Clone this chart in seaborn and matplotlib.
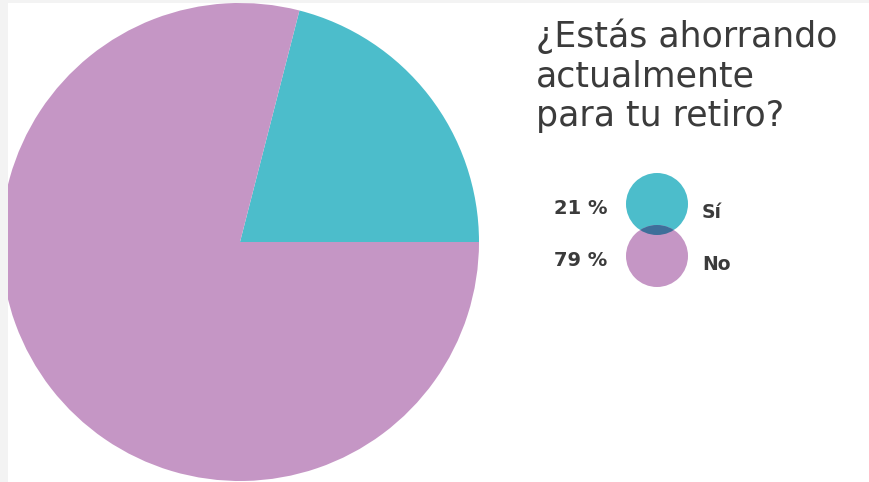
import matplotlib
matplotlib.use("Agg")
import matplotlib.pyplot as plt
import matplotlib.patches as mpatches
import seaborn as sns

# Survey answers
categories = ["Sí", "No"]
shares = [21, 79]
pct_labels = ["21 %", "79 %"]
title = "¿Estás ahorrando\nactualmente\npara tu retiro?"

sns.set_theme(style="white")
plt.rcParams["font.family"] = ["DejaVu Sans"]
palette = sns.color_palette(["#4cbdcb", "#c596c5"])
overlap_color = "#3e6f9a"
text_color = "#3b3b3b"

W, H = 869, 482
fig = plt.figure(figsize=(W / 100, H / 100), dpi=100, facecolor="#f3f3f3")

# White page area inside the thin grey frame
page = mpatches.Rectangle((8 / W, 0), 1 - 8 / W, 1 - 3 / H,
                          transform=fig.transFigure,
                          facecolor="white", edgecolor="none", zorder=-10)
fig.patches.append(page)

# Pie chart
cx, cy, r = 240, 242, 239
ax = fig.add_axes([(cx - r) / W, (H - cy - r) / H, 2 * r / W, 2 * r / H])
ax.set_zorder(1)
ax.patch.set_visible(False)
wedges, _ = ax.pie(shares, colors=palette, startangle=0, counterclock=True,
                   wedgeprops=dict(linewidth=0, edgecolor="none"))
ax.set_xlim(-1, 1)
ax.set_ylim(-1, 1)
ax.set_aspect("equal")
ax.axis("off")

# Keep the pie inside the white page area
clip = mpatches.Rectangle((8 / W, 0), 1 - 8 / W, 1 - 3 / H, transform=fig.transFigure)
for w in wedges:
    w.set_clip_on(True)
    w.set_clip_path(clip)

# Legend: overlapping circles in pixel coordinates
lax = fig.add_axes([0, 0, 1, 1])
lax.set_zorder(2)
lax.patch.set_visible(False)
lax.set_xlim(0, W)
lax.set_ylim(H, 0)
lax.axis("off")
centers = [(657, 204), (657, 256)]
lr = 31
c_top = mpatches.Circle(centers[0], lr, facecolor=palette[0], edgecolor="none")
c_bot = mpatches.Circle(centers[1], lr, facecolor=palette[1], edgecolor="none")
lax.add_patch(c_top)
lax.add_patch(c_bot)
overlap = mpatches.Circle(centers[0], lr, facecolor=overlap_color, edgecolor="none")
lax.add_patch(overlap)
overlap.set_clip_path(c_bot)

for (x, y), pct, cat in zip(centers, pct_labels, categories):
    lax.text(607, y + 5, pct, ha="right", va="center",
             fontsize=14, color=text_color, fontweight="semibold")
    lax.text(702, y + 9, cat, ha="left", va="center", fontsize=13.5,
             color=text_color, fontweight="bold")

# Title
lax.text(536, 19, title, ha="left", va="top", fontsize=25,
         color=text_color, linespacing=1.19)

fig.savefig("out.png", dpi=100, facecolor=fig.get_facecolor())
